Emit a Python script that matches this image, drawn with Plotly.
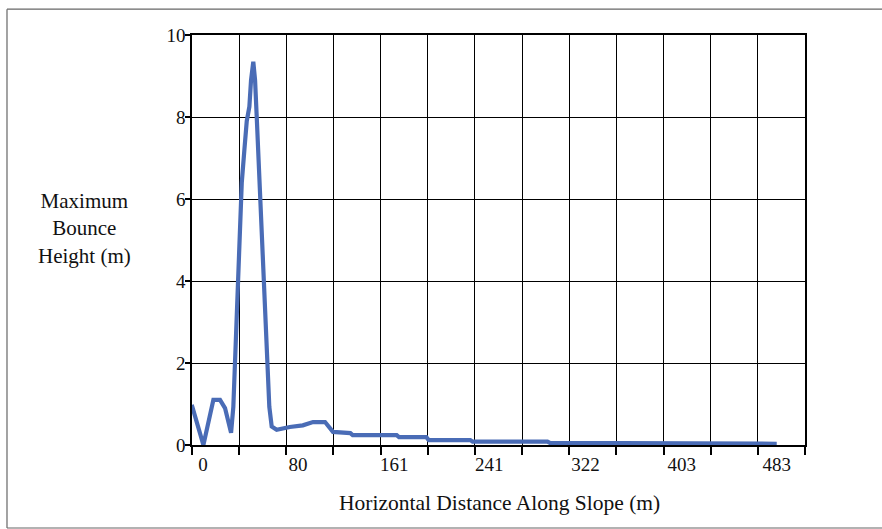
import plotly.graph_objects as go

# Data (distance in m, max bounce height in m)
distance = [-9.5, 0.3, 8.7, 14.3, 18.5, 23.6, 25.5, 27.0, 28.9, 29.7, 31.1, 32.6, 34.8, 36.8,
            39.0, 40.4, 42.3, 43.8, 45.2, 46.5, 48.0, 49.4, 50.8, 52.2, 53.6, 55.0, 55.8,
            57.8, 62.0, 73.0, 84.0, 92.6, 102.7, 109.4, 124.0, 126.0, 163.0, 165.0, 188.0,
            190.0, 225.0, 227.0, 290.0, 292.0, 337.0, 339.0, 483.0]
height = [0.98, 0.0, 1.1, 1.1, 0.9, 0.3, 0.93, 2.07, 3.1, 4.2, 5.3, 6.4, 7.2, 7.9,
          8.25, 8.9, 9.35, 8.9, 8.0, 7.1, 6.2, 5.3, 4.4, 3.5, 2.6, 1.75, 0.93,
          0.45, 0.37, 0.44, 0.48, 0.56, 0.56, 0.32, 0.29, 0.24, 0.24, 0.19, 0.19,
          0.12, 0.12, 0.08, 0.08, 0.05, 0.05, 0.03, 0.03]

x_tick_vals = [0, 80, 161, 241, 322, 403, 483]
x_tick_text = ["0", "80", "161", "241", "322", "403", "483"]
y_tick_vals = [0, 2, 4, 6, 8, 10]

FONT = "Liberation Serif"
INK = "#111111"

fig = go.Figure()
fig.add_trace(go.Scatter(x=distance, y=height, mode="lines",
                         line=dict(color="#4a6cb6", width=4.2),
                         hoverinfo="skip", showlegend=False))

x0, x1 = -9.3, -9.3 + 13 * 39.7
fig.update_xaxes(range=[x0, x1], tickmode="array", tickvals=x_tick_vals, ticktext=x_tick_text,
                 ticks="", showgrid=False, zeroline=False,
                 showline=True, linecolor="black", linewidth=1.5, mirror=True,
                 tickfont=dict(family=FONT, size=19, color=INK),
                 ticklabelstandoff=1,
                 minor=dict(tickmode="linear", tick0=x0, dtick=39.7, showgrid=True,
                            gridcolor="black", gridwidth=1, ticks="outside",
                            ticklen=8, tickcolor="black", tickwidth=1.5))
fig.update_yaxes(range=[0, 10], tickmode="array", tickvals=y_tick_vals,
                 ticks="outside", ticklen=5, tickcolor="black", tickwidth=1.5,
                 showgrid=True, gridcolor="black", gridwidth=1, zeroline=False,
                 showline=True, linecolor="black", linewidth=1.5, mirror=True,
                 ticklabelstandoff=-4,
                 tickfont=dict(family=FONT, size=19, color=INK))

fig.add_annotation(text="Horizontal Distance Along Slope (m)", xref="paper", yref="paper",
                   x=0.5024, y=-0.1415, xanchor="center", yanchor="middle", showarrow=False,
                   font=dict(family=FONT, size=21.5, color=INK))
fig.add_annotation(text="Maximum<br>Bounce<br>Height (m)", xref="paper", yref="paper",
                   x=-0.1746, y=0.529, xanchor="center", yanchor="middle", showarrow=False,
                   font=dict(family=FONT, size=21, color=INK))

# outer frame (left, top, bottom edges)
frame_line = dict(color="#666666", width=1.2)
fig.add_shape(type="line", xref="paper", yref="paper", x0=-0.3018, x1=-0.3018, y0=-0.2024, y1=1.063,
              line=frame_line)
fig.add_shape(type="line", xref="paper", yref="paper", x0=-0.3018, x1=1.2, y0=1.063, y1=1.063,
              line=frame_line)
fig.add_shape(type="line", xref="paper", yref="paper", x0=-0.3018, x1=1.2, y0=-0.2024, y1=-0.2024,
              line=frame_line)

fig.update_layout(width=882, height=529, margin=dict(l=192, r=77, t=35, b=84),
                  paper_bgcolor="white", plot_bgcolor="white")

fig.write_html("out.html", config={"displayModeBar": False},
               post_script="document.body.style.margin='0';")
